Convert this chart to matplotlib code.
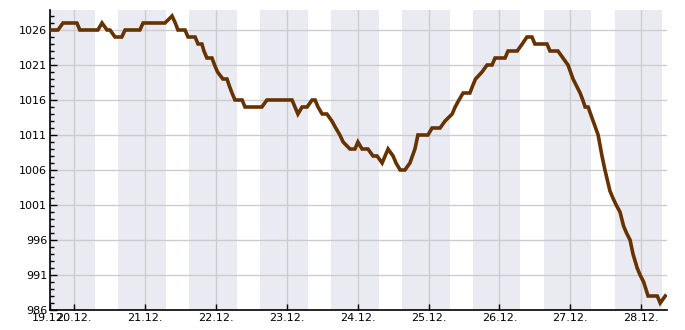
import matplotlib
matplotlib.use("Agg")
import matplotlib.pyplot as plt
from matplotlib.ticker import MultipleLocator

# hours since 19.12. 00:00 and air pressure (hPa)
stunden = [15.9, 16.6, 18.6, 20.3, 25.0, 26.0, 32.1, 33.5, 35.2, 36.2, 37.9, 40.2,
           41.3, 46.3, 47.4, 54.8, 57.2, 58.3, 59.2, 61.6, 62.6, 65.0, 66.0, 67.3,
           68.0, 69.0, 70.7, 71.6, 72.6, 74.4, 75.8, 76.6, 77.5, 78.5, 80.9, 81.9,
           87.6, 89.3, 97.8, 99.8, 101.2, 102.9, 104.6, 105.6, 106.6, 108.0, 109.6,
           111.3, 112.6, 114.0, 115.1, 117.4, 119.1, 120.1, 121.5, 123.5, 125.2,
           126.6, 128.3, 130.3, 132.0, 133.0, 134.4, 136.0, 137.7, 139.4, 140.4,
           143.8, 145.2, 147.9, 149.6, 152.0, 153.0, 154.3, 155.7, 158.0, 158.9,
           159.9, 162.1, 163.8, 165.5, 166.5, 169.9, 170.9, 174.0, 175.7, 177.3,
           179.0, 180.0, 184.1, 185.1, 187.8, 189.5, 191.2, 192.9, 194.1, 195.3,
           196.2, 197.0, 198.0, 199.7, 201.4, 202.7, 203.7, 205.4, 206.4, 207.5,
           208.8, 210.0, 211.0, 212.2, 213.2, 214.6, 215.6, 216.8, 218.3, 221.4,
           222.4, 224.1]
druck = [1026, 1026, 1026, 1027, 1027, 1026, 1026, 1027, 1026, 1026, 1025, 1025,
         1026, 1026, 1027, 1027, 1028, 1027, 1026, 1026, 1025, 1025, 1024, 1024,
         1023, 1022, 1022, 1021, 1020, 1019, 1019, 1018, 1017, 1016, 1016, 1015,
         1015, 1016, 1016, 1014, 1015, 1015, 1016, 1016, 1015, 1014, 1014,
         1013, 1012, 1011, 1010, 1009, 1009, 1010, 1009, 1009, 1008,
         1008, 1007, 1009, 1008, 1007, 1006, 1006, 1007, 1009, 1011,
         1011, 1012, 1012, 1013, 1014, 1015, 1016, 1017, 1017, 1018,
         1019, 1020, 1021, 1021, 1022, 1022, 1023, 1023, 1024, 1025,
         1025, 1024, 1024, 1023, 1023, 1022, 1021, 1019, 1018, 1017,
         1016, 1015, 1015, 1013, 1011, 1008, 1006, 1003, 1002, 1001,
         1000, 998, 997, 996, 994, 992, 991, 990, 988, 988,
         987, 988]

tage = ["20.12.", "21.12.", "22.12.", "23.12.", "24.12.", "25.12.", "26.12.", "27.12.", "28.12."]
start, ende = 15.9, 224.7
hell_von, hell_bis = 7.1, 15.0   # daylight hours (white)

fig = plt.figure(figsize=(6.85, 3.3), dpi=100)
ax = fig.add_axes([50 / 685, 20 / 330, 617 / 685, 300 / 330])

# night bands
for d in range(0, 10):
    a = (d - 1) * 24 + hell_bis
    b = d * 24 + hell_von
    ax.axvspan(max(a, start), min(b, ende), color="#eaeaf2", lw=0, zorder=0)

ax.plot(stunden, druck, color="#663300", lw=2.6, solid_joinstyle="miter", zorder=3)

ax.set_xlim(start, ende)
ax.set_ylim(986, 986 + 300 / 7)

xt = [start] + [24 * (i + 1) for i in range(len(tage))]
ax.set_xticks(xt)
ax.set_xticklabels(["19.12."] + tage)
ax.set_yticks(range(986, 1027, 5))
ax.yaxis.set_minor_locator(MultipleLocator(1))

ax.grid(True, which="major", color="#cccccc", lw=1, zorder=1)
ax.set_axisbelow(True)
ax.tick_params(axis="both", which="major", direction="in", length=5, width=1,
               labelsize=8, colors="black", pad=2)
ax.tick_params(axis="y", which="minor", direction="in", length=3, width=1)
ax.tick_params(axis="x", which="major", length=4)

for s in ["top", "right"]:
    ax.spines[s].set_visible(False)
for s in ["left", "bottom"]:
    ax.spines[s].set_linewidth(1.2)

plt.savefig("out.png", dpi=100)
